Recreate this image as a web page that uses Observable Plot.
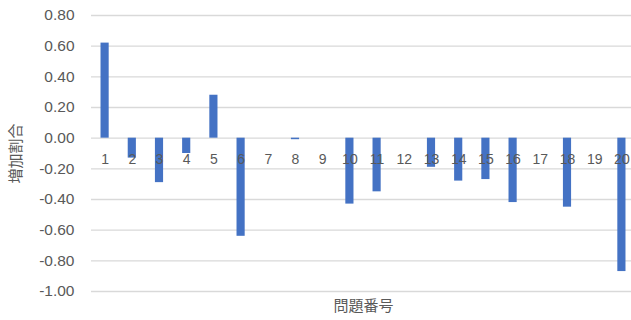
<!DOCTYPE html>
<html>
<head>
<meta charset="utf-8">
<script src="https://cdn.jsdelivr.net/npm/d3@7"></script>
<script src="https://cdn.jsdelivr.net/npm/@observablehq/plot@0.6"></script>
<style>
html, body { margin: 0; padding: 0; background: #fff; overflow: hidden; }
</style>
</head>
<body>
<div id="chart"></div>
<script>
const categories = ["1","2","3","4","5","6","7","8","9","10","11","12","13","14","15","16","17","18","19","20"];
const values = [0.62, -0.13, -0.29, -0.10, 0.28, -0.64, 0, -0.01, 0, -0.43, -0.35, 0, -0.19, -0.28, -0.27, -0.42, 0, -0.45, 0, -0.87];
const yTicks = [-1.0, -0.8, -0.6, -0.4, -0.2, 0, 0.2, 0.4, 0.6, 0.8];
const yTitle = "増加割合";
const xTitle = "問題番号";

const data = categories.map((c, i) => ({cat: c, value: values[i]}));
const font = "'Liberation Sans', 'Noto Sans CJK JP', sans-serif";
const cjk = "'Noto Sans CJK JP', sans-serif";

const chart = Plot.plot({
  width: 631,
  height: 320,
  marginLeft: 91,
  marginRight: 0,
  marginTop: 15,
  marginBottom: 29,
  style: {background: "#fff", overflow: "hidden"},
  x: {domain: categories, range: [91, 635], paddingInner: 0.7, paddingOuter: 0.35, round: false, axis: null},
  y: {domain: [-1, 0.8], axis: null},
  marks: [
    Plot.ruleY(yTicks, {stroke: "#d9d9d9", strokeWidth: 1.3}),
    Plot.barY(data, {x: "cat", y: "value", fill: "#4472C4"}),
    Plot.text(categories, {x: d => d, y: 0, dy: 21, fill: "#595959", fontSize: 14, fontFamily: font}),
    Plot.text(yTicks, {y: d => d, frameAnchor: "left", dx: -17, textAnchor: "end", text: d => d.toFixed(2), fill: "#595959", fontSize: 15.5, fontFamily: font}),
    Plot.text([yTitle], {frameAnchor: "left", textAnchor: "middle", lineAnchor: "middle", dx: -75, rotate: -90, fill: "#595959", fontSize: 15, fontFamily: cjk}),
    Plot.text([xTitle], {frameAnchor: "bottom", textAnchor: "middle", lineAnchor: "middle", dx: 2, dy: 15, fill: "#595959", fontSize: 15, fontFamily: cjk})
  ]
});
document.getElementById("chart").appendChild(chart);
</script>
</body>
</html>
